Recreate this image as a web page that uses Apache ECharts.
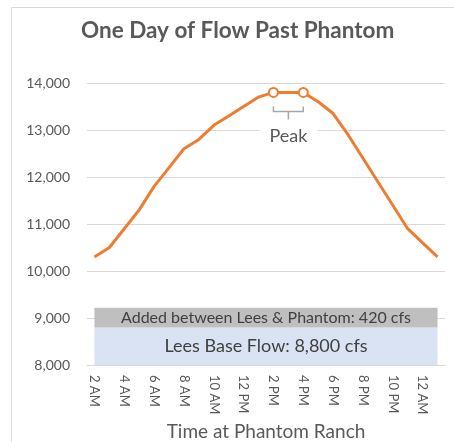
<!DOCTYPE html>
<html>
<head>
<meta charset="utf-8">
<script src="https://cdn.jsdelivr.net/npm/echarts@6/dist/echarts.min.js"></script>
<style>
  html, body { margin: 0; padding: 0; background: #fff; }
  #chart { width: 454px; height: 442px; }
</style>
</head>
<body>
<div id="chart"></div>
<script>
// hourly flow at Phantom Ranch, 2 AM through 1 AM next day
const hours = ['2 AM', '3 AM', '4 AM', '5 AM', '6 AM', '7 AM', '8 AM', '9 AM', '10 AM', '11 AM',
  '12 PM', '1 PM', '2 PM', '3 PM', '4 PM', '5 PM', '6 PM', '7 PM', '8 PM', '9 PM',
  '10 PM', '11 PM', '12 AM', '1 AM']
const flow = [10300, 10500, 10900, 11300, 11800, 12200, 12600, 12800, 13100, 13300,
  13500, 13700, 13800, 13800, 13800, 13600, 13350, 12900, 12400, 11900,
  11400, 10900, 10600, 10300]
const peakHours = ['2 PM', '4 PM']
const baseFlow = 8800
const addedFlow = 420
const yMin = 8000
const yMax = 14000
const yStep = 1000

const baseLabel = 'Lees Base Flow: 8,800 cfs'
const addedLabel = 'Added between Lees & Phantom: 420 cfs'

const FONT = 'Lato'
const TEXT = '#595959'
const ORANGE = '#ED7D31'

const chart = echarts.init(document.getElementById('chart'), null, { renderer: 'canvas' })

const lineData = flow.map((v, i) => peakHours.includes(hours[i])
  ? { value: v, symbol: 'circle' }
  : { value: v, symbol: 'none' })

const option = {
  animation: false,
  title: {
    text: 'One Day of Flow Past Phantom',
    left: 76,
    top: 12,
    textStyle: { fontFamily: FONT, fontSize: 22.5, fontWeight: 'bold', color: TEXT, lineHeight: 28 }
  },
  grid: { left: 87, right: 9, top: 83, bottom: 77, outerBoundsMode: 'none' },
  xAxis: {
    type: 'category',
    data: hours,
    boundaryGap: true,
    name: 'Time at Phantom Ranch',
    nameLocation: 'middle',
    nameGap: 52,
    nameTextStyle: { fontFamily: FONT, fontSize: 19, color: TEXT },
    axisLine: { lineStyle: { color: '#d9d9d9', width: 1 } },
    axisTick: { show: false },
    axisLabel: { interval: 1, rotate: -90, margin: 10, fontFamily: FONT, fontSize: 13, color: TEXT }
  },
  yAxis: {
    type: 'value',
    min: yMin,
    max: yMax,
    interval: yStep,
    axisLine: { show: false },
    axisTick: { show: false },
    splitLine: { lineStyle: { color: '#d9d9d9', width: 1 } },
    axisLabel: {
      margin: 17,
      fontFamily: FONT,
      fontSize: 14,
      color: TEXT,
      formatter: v => v.toLocaleString('en-US')
    }
  },
  series: [
    {
      name: 'base',
      type: 'line',
      stack: 'band',
      data: hours.map(() => baseFlow),
      symbol: 'none',
      lineStyle: { width: 0 },
      areaStyle: { color: '#dae3f3', opacity: 1 },
      silent: true
    },
    {
      name: 'added',
      type: 'line',
      stack: 'band',
      data: hours.map(() => addedFlow),
      symbol: 'none',
      lineStyle: { width: 0 },
      areaStyle: { color: '#bfbfbf', opacity: 1 },
      silent: true
    },
    {
      name: 'flow',
      type: 'line',
      data: lineData,
      showSymbol: true,
      showAllSymbol: true,
      symbolSize: 9,
      itemStyle: { color: '#fff', borderColor: ORANGE, borderWidth: 2 },
      lineStyle: { color: ORANGE, width: 3 },
      z: 5
    }
  ]
}

chart.setOption(option)

function annotate() {
  const i1 = hours.indexOf(peakHours[0])
  const i2 = hours.indexOf(peakHours[1])
  const p1 = chart.convertToPixel({ gridIndex: 0 }, [i1, flow[i1]])
  const p2 = chart.convertToPixel({ gridIndex: 0 }, [i2, flow[i2]])
  const first = chart.convertToPixel({ gridIndex: 0 }, [0, baseFlow])
  const last = chart.convertToPixel({ gridIndex: 0 }, [hours.length - 1, baseFlow])
  const midX = (first[0] + last[0]) / 2
  const midX2 = (p1[0] + p2[0]) / 2
  const yBase = chart.convertToPixel({ gridIndex: 0 }, [0, (yMin + baseFlow) / 2])[1]
  const yAdded = chart.convertToPixel({ gridIndex: 0 }, [0, baseFlow + addedFlow / 2])[1]
  const top = p1[1]
  const bracket = { stroke: '#a6a6a6', lineWidth: 1.5 }

  chart.setOption({
    graphic: [
      { type: 'rect', silent: true, shape: { x: 11.5, y: 7.5, width: 460, height: 460 },
        style: { fill: 'none', stroke: '#d9d9d9', lineWidth: 1 } },
      { type: 'polyline', silent: true, z: 10,
        shape: { points: [[p1[0], top + 14], [p1[0], top + 19], [p2[0], top + 19], [p2[0], top + 14]] },
        style: bracket },
      { type: 'line', silent: true, z: 10,
        shape: { x1: midX2, y1: top + 19, x2: midX2, y2: top + 27 }, style: bracket },
      { type: 'text', silent: true, z: 10, x: midX2, y: top + 44,
        style: { text: 'Peak', align: 'center', verticalAlign: 'middle', font: '18px Lato',
          fill: TEXT, backgroundColor: '#fff', padding: [0, 10] } },
      { type: 'text', silent: true, z: 10, x: midX, y: yAdded,
        style: { text: addedLabel, align: 'center', verticalAlign: 'middle', font: '16px Lato', fill: '#404040' } },
      { type: 'text', silent: true, z: 10, x: midX, y: yBase,
        style: { text: baseLabel, align: 'center', verticalAlign: 'middle', font: '18px Lato', fill: '#404040' } }
    ]
  })
}

annotate()
</script>
</body>
</html>
